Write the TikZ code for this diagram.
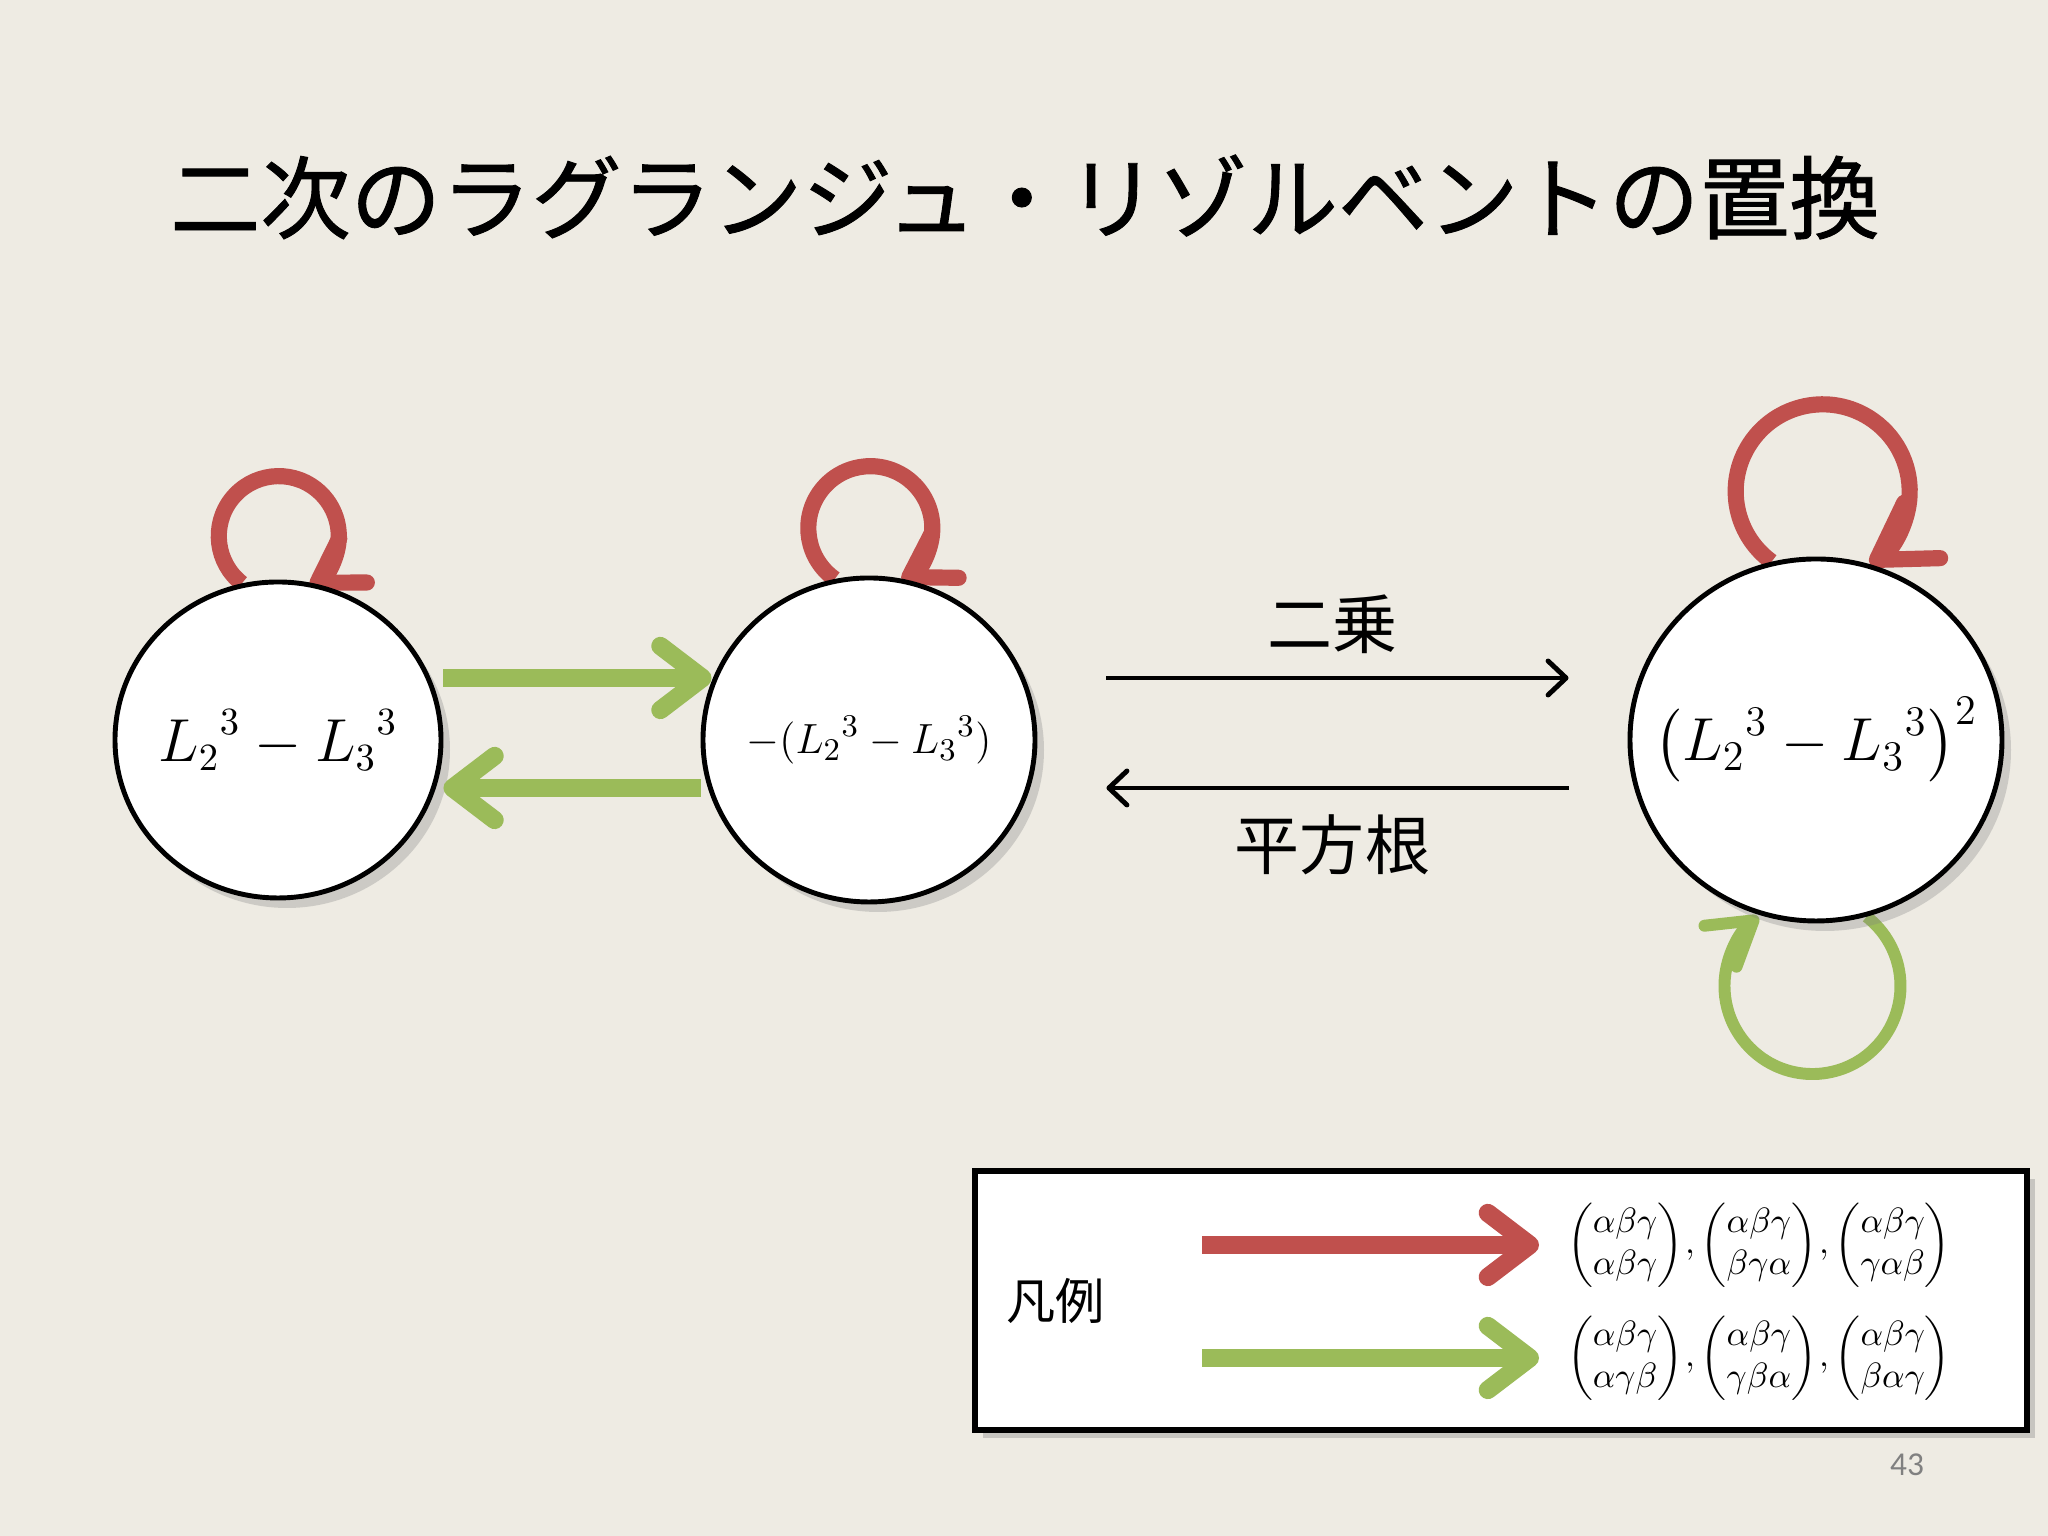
\documentclass[tikz,border=0pt]{standalone}
\usepackage{amsmath}
\usepackage[no-math]{fontspec}
\usepackage{xcolor}
\usepackage{tikz}
\usetikzlibrary{positioning, arrows.meta, shapes.geometric, shadows}
\setmainfont{Noto Sans CJK JP}
\newfontfamily\titlefont[FakeBold=1]{Noto Sans CJK JP}
\newfontfamily\pagefont{Carlito}
\definecolor{slidebg}{RGB}{238,235,227}
\definecolor{pptred}{RGB}{192,80,77}
\definecolor{pptgreen}{RGB}{155,187,89}
\newcommand{\permcol}[1]{\begin{pmatrix}\alpha\beta\gamma\\ #1\end{pmatrix}}
\pgfdeclarelayer{back}
\pgfsetlayers{back,main}

\begin{document}
\begin{tikzpicture}[
    state/.style={ellipse, draw, line width=1.4pt, fill=white, inner sep=0pt,
                  drop shadow={shadow xshift=0.9mm, shadow yshift=-1mm,
                               opacity=0.3}},
    fatarrow/.style={line width=5.2pt,
                     -{Straight Barb[length=4.2mm, width=6.4mm, round]}},
    redfat/.style={fatarrow, draw=pptred},
    grnfat/.style={fatarrow, draw=pptgreen},
    redloop/.style={draw=pptred, line width=4.6pt,
                    -{Straight Barb[length=4.2mm, width=5.2mm, round]}},
    grnloop/.style={draw=pptgreen, line width=3.4pt,
                    -{Straight Barb[length=4.2mm, width=5.2mm, round]}},
    blk/.style={line width=1.4pt,
                -{Straight Barb[length=1.8mm, width=3.4mm, round]}},
    lbl/.style={font=\fontsize{18.5}{22}\selectfont}]

  \begin{pgfonlayer}{back}
    \fill[slidebg] (0,0) rectangle (20.48,15.36);
  \end{pgfonlayer}
  \useasboundingbox (0,0) rectangle (20.48,15.36);

  \node[font=\titlefont\fontsize{25.7}{30}\selectfont] (title) at (10.25,13.39)
    {二次のラグランジュ・リゾルベントの置換};

  % states
  \node[state, minimum width=3.26cm, minimum height=3.16cm,
        font=\fontsize{16}{19}\selectfont] (c1) at (2.78,7.96)
    {\makebox[0pt]{${L_2}^3-{L_3}^3$}};
  \node[state, minimum width=3.32cm, minimum height=3.24cm,
        font=\fontsize{13}{16}\selectfont] (c2) at (8.69,7.96)
    {\makebox[0pt]{$-({L_2}^3-{L_3}^3)$}};
  \node[state, minimum width=3.72cm, minimum height=3.62cm,
        font=\fontsize{17}{20}\selectfont] (c3) at (18.16,7.96)
    {\makebox[0pt]{$\left({L_2}^3-{L_3}^3\right)^2$}};

  % edges
  \draw[grnfat, shorten >=-1.1mm]
    ([yshift=6.2mm]c1.east) -- ([yshift=6.2mm]c2.west);
  \draw[grnfat] ([yshift=-4.8mm]c2.west) -- ([yshift=-4.8mm]c1.east);
  \draw[blk, shorten <=6.9mm, shorten >=5.9mm]
    ([yshift=6.2mm]c2.east) -- node[lbl, above=1mm] (sq) {二乗}
    ([yshift=6.2mm]c3.west);
  \draw[blk, shorten <=5.9mm, shorten >=6.9mm]
    ([yshift=-4.8mm]c3.west) -- node[lbl, below=1.3mm] (rt) {平方根}
    ([yshift=-4.8mm]c2.east);

  % self loops (kept under the states)
  \begin{pgfonlayer}{back}
    \draw[redloop] (c1.103) arc[start angle=232, end angle=-58, radius=0.6];
    \draw[redloop] (c2.102) arc[start angle=235, end angle=-59, radius=0.62];
    \draw[redloop, -{Straight Barb[length=5.4mm, width=6.6mm, round]}]
      (c3.104) arc[start angle=234, end angle=-57, radius=0.87];
    \draw[grnloop] (c3.286) arc[start angle=52, end angle=-232, radius=0.88];
  \end{pgfonlayer}

  % legend
  \node[draw, line width=1.6pt, fill=white, minimum width=10.52cm,
        minimum height=2.59cm,
        drop shadow={shadow xshift=0.8mm, shadow yshift=-0.8mm, opacity=0.35}]
    (legend) at (15.01,2.355) {};
  \node[font=\fontsize{14}{17}\selectfont, right=0.22cm of legend.west]
    (hanrei) {凡例};
  \coordinate (rstart) at (12.02,2.91);
  \coordinate (gstart) at (12.02,1.78);
  \node[right=3.37cm of rstart, inner sep=0pt, outer xsep=2.8mm,
        font=\fontsize{10}{12}\selectfont] (rlist)
    {$\permcol{\alpha\beta\gamma}\mkern-2mu,\permcol{\beta\gamma\alpha}\mkern-2mu,
      \permcol{\gamma\alpha\beta}$};
  \node[right=3.37cm of gstart, inner sep=0pt, outer xsep=2.8mm,
        font=\fontsize{10}{12}\selectfont] (glist)
    {$\permcol{\alpha\gamma\beta}\mkern-2mu,\permcol{\gamma\beta\alpha}\mkern-2mu,
      \permcol{\beta\alpha\gamma}$};
  \draw[redfat] (rstart) -- (rlist);
  \draw[grnfat] (gstart) -- (glist);

  \node[font=\pagefont\fontsize{9.5}{11}\selectfont, text=gray] (pageno)
    at (19.07,0.71) {43};
\end{tikzpicture}
\end{document}
